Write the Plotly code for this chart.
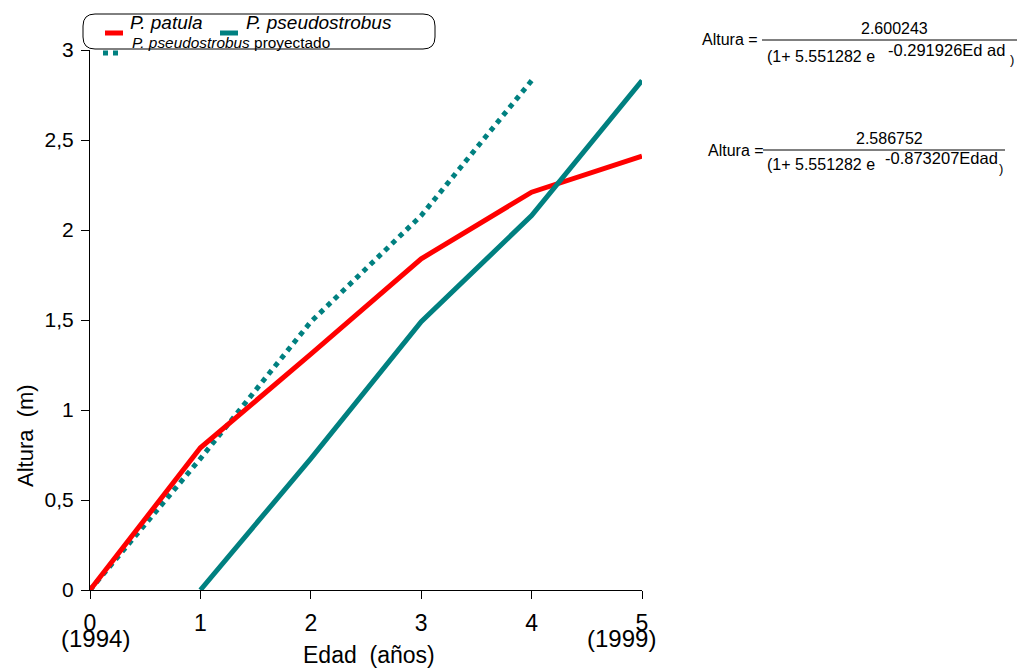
import plotly.graph_objects as go

# ---- data ----
edad = [0, 1, 2, 3, 4, 5]
patula = [0, 0.79, 1.31, 1.84, 2.21, 2.41]
pseudo_x = [1, 2, 3, 4, 5]
pseudo = [0, 0.73, 1.49, 2.08, 2.83]
proy_x = [0, 1, 2, 3, 4]
proy = [0, 0.73, 1.49, 2.08, 2.83]
x_ticks = [0, 1, 2, 3, 4, 5]
x_ticklabels = ["0", "1", "2", "3", "4", "5"]
year_labels = ["(1994)", "(1999)"]
y_ticks = [0, 0.5, 1, 1.5, 2, 2.5, 3]
y_ticklabels = ["0", "0,5", "1", "1,5", "2", "2,5", "3"]

RED = "#FF0000"
TEAL = "#008080"
FONT = "Liberation Sans, Arial, sans-serif"

W, H = 1019, 668
L, R, T, B = 90, 642, 50, 590


def px(x):
    return (x - L) / (R - L)


def py(y):
    return (B - y) / (B - T)


fig = go.Figure()
fig.add_trace(go.Scatter(x=proy_x, y=proy, mode="lines",
                         line=dict(color=TEAL, width=5, dash="dot"),
                         showlegend=False))
fig.add_trace(go.Scatter(x=edad, y=patula, mode="lines",
                         line=dict(color=RED, width=5), showlegend=False))
fig.add_trace(go.Scatter(x=pseudo_x, y=pseudo, mode="lines",
                         line=dict(color=TEAL, width=5), showlegend=False))

shapes = []
annotations = []

# rounded legend box
x0, x1, y0, y1, r = 83, 435, 14, 49, 12
path = (f"M {px(x0 + r)},{py(y0)} L {px(x1 - r)},{py(y0)} "
        f"Q {px(x1)},{py(y0)} {px(x1)},{py(y0 + r)} L {px(x1)},{py(y1 - r)} "
        f"Q {px(x1)},{py(y1)} {px(x1 - r)},{py(y1)} L {px(x0 + r)},{py(y1)} "
        f"Q {px(x0)},{py(y1)} {px(x0)},{py(y1 - r)} L {px(x0)},{py(y0 + r)} "
        f"Q {px(x0)},{py(y0)} {px(x0 + r)},{py(y0)} Z")
shapes.append(dict(type="path", xref="paper", yref="paper", path=path,
                   line=dict(color="black", width=1), fillcolor="white", layer="above"))
# legend symbols
shapes.append(dict(type="line", xref="paper", yref="paper", x0=px(105), x1=px(123),
                   y0=py(33), y1=py(33), line=dict(color=RED, width=5), layer="above"))
shapes.append(dict(type="line", xref="paper", yref="paper", x0=px(220), x1=px(238),
                   y0=py(33), y1=py(33), line=dict(color=TEAL, width=5), layer="above"))
shapes.append(dict(type="line", xref="paper", yref="paper", x0=px(103), x1=px(121),
                   y0=py(53), y1=py(53), line=dict(color=TEAL, width=5, dash="dot"),
                   layer="above"))
annotations += [
    dict(x=px(128), y=py(23), text="<i>P. patula</i>", xanchor="left", yanchor="middle",
         font=dict(size=19, color="black", family=FONT)),
    dict(x=px(244), y=py(23), text="<i>P. pseudostrobus</i>", xanchor="left", yanchor="middle",
         font=dict(size=19, color="black", family=FONT)),
    dict(x=px(130), y=py(43), text="<i>P. pseudostrobus</i> proyectado", xanchor="left",
         yanchor="middle", font=dict(size=15.4, color="black", family=FONT)),
]

EF = dict(size=16, color="black", family=FONT)


def equation(alt_x, line_y, lx0, lx1, num_y, den_x, den_y, num, expo, exp_x, exp_y,
             par_x, par_y):
    a = [
        dict(x=px(alt_x), y=py(line_y), text="Altura =", xanchor="left", yanchor="middle", font=EF),
        dict(x=px((lx0 + lx1) / 2 + 5), y=py(num_y), text=num, xanchor="center",
             yanchor="middle", font=EF),
        dict(x=px(den_x), y=py(den_y), text="(1+ 5.551282 e", xanchor="left",
             yanchor="middle", font=EF),
        dict(x=px(exp_x), y=py(exp_y), text=expo, xanchor="left", yanchor="middle",
             font=dict(size=16.5, color="black", family=FONT)),
        dict(x=px(par_x), y=py(par_y), text=")", xanchor="left", yanchor="middle",
             font=dict(size=13, color="black", family=FONT)),
    ]
    s = dict(type="line", xref="paper", yref="paper", x0=px(lx0), x1=px(lx1),
             y0=py(line_y), y1=py(line_y), line=dict(color="black", width=1))
    return a, s


a1, s1 = equation(700, 40, 762, 1017, 28, 765, 57, "2.600243", "-0.291926Ed ad",
                  886, 50, 1008, 60)
a2, s2 = equation(706, 150, 763, 1005, 138, 765, 165, "2.586752", "-0.873207Edad",
                  883, 158, 997, 168)
annotations += a1 + a2
shapes += [s1, s2]

# year labels under first and last ticks, axis titles
annotations += [
    dict(x=px(95), y=py(638), text=year_labels[0], xanchor="center", yanchor="middle",
         font=dict(size=24, color="black", family=FONT)),
    dict(x=px(621), y=py(638), text=year_labels[1], xanchor="center", yanchor="middle",
         font=dict(size=24, color="black", family=FONT)),
    dict(x=px(369), y=py(655), text="Edad  (años)", xanchor="center", yanchor="middle",
         font=dict(size=23, color="black", family=FONT)),
    dict(x=px(25), y=py(436), text="Altura  (m)", textangle=-90, xanchor="center",
         yanchor="middle", font=dict(size=22, color="black", family=FONT)),
]

for a in annotations:
    a.update(xref="paper", yref="paper", showarrow=False)

fig.update_layout(
    width=W, height=H,
    margin=dict(l=L, r=W - R, t=T, b=H - B, autoexpand=False),
    paper_bgcolor="white", plot_bgcolor="white",
    font=dict(family=FONT, color="black"),
    shapes=shapes, annotations=annotations,
    showlegend=False,
    xaxis=dict(range=[0, 5], tickmode="array", tickvals=x_ticks, ticktext=x_ticklabels,
               ticks="outside", ticklen=8, tickcolor="black", showline=True,
               linecolor="black", linewidth=1, showgrid=False, zeroline=False,
               automargin=False, ticklabelstandoff=4,
               tickfont=dict(size=23, color="black")),
    yaxis=dict(range=[0, 3], tickmode="array", tickvals=y_ticks, ticktext=y_ticklabels,
               ticks="outside", ticklen=8, tickcolor="black", showline=True,
               linecolor="black", linewidth=1, showgrid=False, zeroline=False,
               automargin=False, ticklabelstandoff=3,
               tickfont=dict(size=21, color="black")),
)

fig.write_html("out.html", config={"displayModeBar": False},
               post_script="document.body.style.margin='0';document.body.style.overflow='hidden';")
